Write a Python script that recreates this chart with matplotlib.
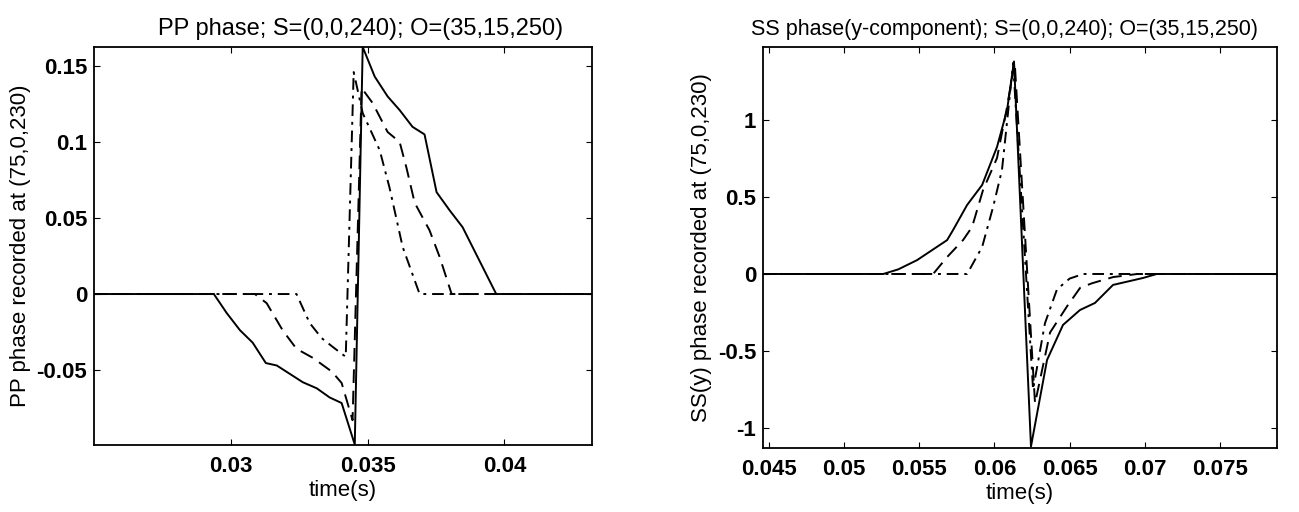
import matplotlib
matplotlib.use("Agg")
import matplotlib.pyplot as plt

plt.rcParams['font.family'] = ['Liberation Sans', 'DejaVu Sans']

# ---------------- PP phase data ----------------
pp_solid_t = [0.0250, 0.02938, 0.02985, 0.03033, 0.03080, 0.03128, 0.03168, 0.03263, 0.03314,
              0.03361, 0.03405, 0.03453, 0.03482, 0.03526, 0.03573, 0.03617, 0.03664, 0.03708,
              0.03752, 0.03800, 0.03847, 0.03970, 0.0432]
pp_solid_v = [0.0, 0.0, -0.0125, -0.0237, -0.0320, -0.0454, -0.0470, -0.0580, -0.0620,
              -0.0680, -0.0717, -0.0990, 0.1625, 0.1430, 0.1300, 0.1210, 0.1100, 0.1050,
              0.0670, 0.0550, 0.0440, 0.0, 0.0]

pp_dash_t = [0.0250, 0.03088, 0.03131, 0.03190, 0.03240, 0.03300, 0.03369, 0.03405, 0.03445,
             0.03478, 0.03518, 0.03573, 0.03617, 0.03642, 0.03672, 0.03726, 0.03763, 0.03807, 0.0432]
pp_dash_v = [0.0, 0.0, -0.0060, -0.0240, -0.0360, -0.0420, -0.0510, -0.0585, -0.0830,
             0.1355, 0.1257, 0.1066, 0.1000, 0.0830, 0.0600, 0.0420, 0.0245, 0.0, 0.0]

pp_dd_t = [0.0250, 0.03240, 0.03288, 0.03332, 0.03372, 0.03420, 0.03449, 0.03482, 0.03544,
           0.03580, 0.03628, 0.03690, 0.0432]
pp_dd_v = [0.0, 0.0, -0.0190, -0.0290, -0.0347, -0.0413, 0.1460, 0.1190, 0.0947,
           0.0700, 0.0310, 0.0, 0.0]

pp_xticks = [0.03, 0.035, 0.04]
pp_xticklabels = ['0.03', '0.035', '0.04']
pp_yticks = [-0.05, 0.0, 0.05, 0.1, 0.15]
pp_yticklabels = ['-0.05', '0', '0.05', '0.1', '0.15']

# ---------------- SS(y) phase data ----------------
ss_solid_t = [0.0446, 0.05260, 0.05360, 0.05485, 0.05685, 0.05725, 0.05818, 0.05918, 0.06017,
              0.06084, 0.06130, 0.06243, 0.06350, 0.06456, 0.06569, 0.06669, 0.06789, 0.06988,
              0.07080, 0.0788]
ss_solid_v = [0.0, 0.0, 0.03, 0.09, 0.22, 0.286, 0.448, 0.578, 0.825,
              1.065, 1.380, -1.120, -0.558, -0.331, -0.234, -0.188, -0.071, -0.026,
              0.0, 0.0]

ss_dash_t = [0.0446, 0.05592, 0.05685, 0.05791, 0.05851, 0.05924, 0.06017, 0.06080, 0.06135,
             0.06270, 0.06370, 0.06483, 0.06570, 0.06650, 0.06790, 0.06950, 0.0788]
ss_dash_v = [0.0, 0.0, 0.11, 0.22, 0.305, 0.545, 0.753, 1.065, 1.370,
             -0.840, -0.380, -0.210, -0.090, -0.060, -0.020, 0.0, 0.0]

ss_dd_t = [0.0446, 0.05818, 0.05918, 0.05991, 0.06050, 0.06090, 0.06124, 0.06257, 0.06336,
           0.06416, 0.06500, 0.06590, 0.0788]
ss_dd_v = [0.0, 0.0, 0.175, 0.435, 0.675, 1.045, 1.370, -0.750, -0.320,
           -0.100, -0.030, 0.0, 0.0]

ss_xticks = [0.045, 0.05, 0.055, 0.06, 0.065, 0.07, 0.075]
ss_xticklabels = ['0.045', '0.05', '0.055', '0.06', '0.065', '0.07', '0.075']
ss_yticks = [-1.0, -0.5, 0.0, 0.5, 1.0]
ss_yticklabels = ['-1', '-0.5', '0', '0.5', '1']

W, H = 1299, 512
fig = plt.figure(figsize=(W / 100, H / 100), dpi=100)


def px_axes(x0, y0, x1, y1):
    return fig.add_axes([x0 / W, 1 - y1 / H, (x1 - x0) / W, (y1 - y0) / H])


def style(ax, xticks, xtl, yticks, ytl):
    ax.set_xticks(xticks)
    ax.set_xticklabels(xtl, fontsize=16, fontweight='bold')
    ax.set_yticks(yticks)
    ax.set_yticklabels(ytl, fontsize=16, fontweight='bold')
    ax.tick_params(axis='x', direction='in', length=4, width=0.8, top=True, pad=8)
    ax.tick_params(axis='y', direction='in', length=4, width=0.8, right=True, pad=5)
    for s in ax.spines.values():
        s.set_linewidth(1.3)


lw = 1.4
ax1 = px_axes(94, 47, 592, 445)
ax1.plot(pp_solid_t, pp_solid_v, color='black', lw=lw, ls='-')
ax1.plot(pp_dash_t, pp_dash_v, color='black', lw=lw, ls=(0, (7, 4)))
ax1.plot(pp_dd_t, pp_dd_v, color='black', lw=lw, ls=(0, (6, 3, 1.5, 3)))
ax1.set_xlim(0.025, 0.0432)
ax1.set_ylim(-0.0993, 0.1625)
style(ax1, pp_xticks, pp_xticklabels, pp_yticks, pp_yticklabels)
ax1.set_title('PP phase; S=(0,0,240); O=(35,15,250)', fontsize=17, pad=9, x=0.535)
ax1.set_xlabel('time(s)', fontsize=16, labelpad=2)
ax1.set_ylabel('PP phase recorded at (75,0,230)', fontsize=16, labelpad=4)

ax2 = px_axes(763, 47, 1277, 448)
ax2.plot(ss_solid_t, ss_solid_v, color='black', lw=lw, ls='-')
ax2.plot(ss_dash_t, ss_dash_v, color='black', lw=lw, ls=(0, (7, 4)))
ax2.plot(ss_dd_t, ss_dd_v, color='black', lw=lw, ls=(0, (6, 3, 1.5, 3)))
ax2.set_xlim(0.0446, 0.0788)
ax2.set_ylim(-1.13, 1.474)
style(ax2, ss_xticks, ss_xticklabels, ss_yticks, ss_yticklabels)
ax2.set_title('SS phase(y-component); S=(0,0,240); O=(35,15,250)', fontsize=15.5, pad=9, x=0.47)
ax2.set_xlabel('time(s)', fontsize=16, labelpad=2)
ax2.set_ylabel('SS(y) phase recorded at (75,0,230)', fontsize=16, labelpad=4)

fig.savefig('out.png', dpi=100)
